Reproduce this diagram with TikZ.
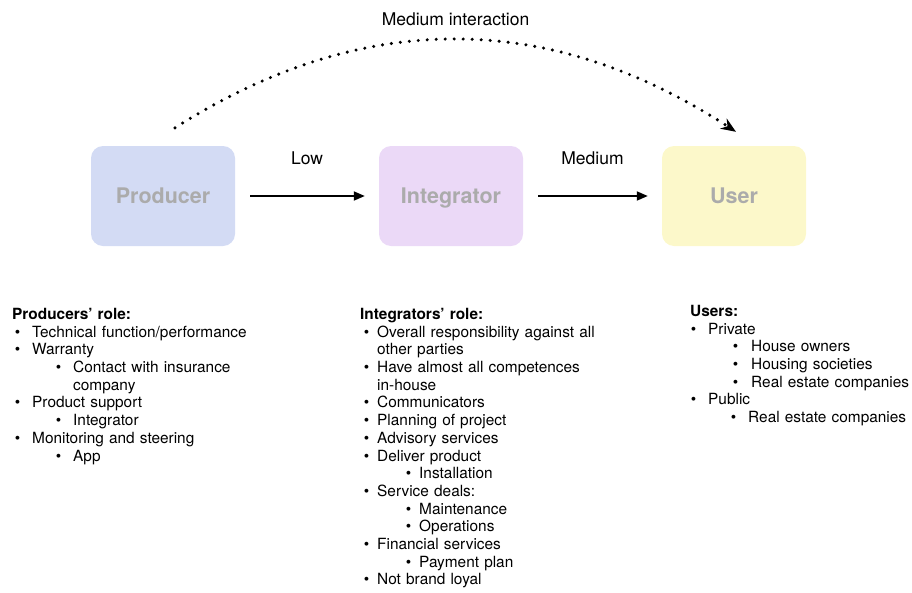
\documentclass[tikz,border=0pt]{standalone}
\usepackage{fontspec}
\setmainfont{TeX Gyre Heros}
\usepackage{enumitem}
\usetikzlibrary{arrows.meta}

\definecolor{prodblue}{HTML}{D3DBF4}
\definecolor{integpurple}{HTML}{EBD9F7}
\definecolor{useryellow}{HTML}{FCF8CA}
\definecolor{boxtext}{HTML}{ABABAB}

\setlist[itemize]{label=\textbullet, nosep}
\newcommand{\bodyfont}{\fontsize{15.4}{17.7}\selectfont}

\begin{document}
\begin{tikzpicture}[x=1pt, y=-1pt,
  box/.style = {rounded corners=12pt, minimum width=144pt, minimum height=100pt, text=boxtext, text height=19.5pt, text depth=4pt, font=\fontsize{21.5}{25}\selectfont\bfseries},
  flow/.style = {-{Triangle[length=11pt,width=9pt]}, line width=1.8pt, shorten <=15pt, shorten >=14pt},
  interact/.style = {-{Stealth[length=15pt,width=12pt]}, line width=3.4pt, line cap=round, dash pattern=on 0pt off 9pt},
  lbl/.style = {font=\fontsize{17.5}{20}\selectfont},
  role/.style = {anchor=north west, inner sep=0pt, text width=280pt, font=\bodyfont}]
\useasboundingbox (0,0) rectangle (912,592);

\node[box, fill=prodblue] (prod) at (163,196) {Producer};
\node[box, fill=integpurple] (integ) at (451,196) {Integrator};
\node[box, fill=useryellow] (user) at (734,196) {User};

\draw[flow] (prod) -- (integ) node[midway, lbl, yshift=38pt] {Low};
\draw[flow] (integ) -- (user) node[midway, lbl, yshift=38pt] {Medium};

% interaction over the top
\coordinate (ia) at ([xshift=12pt,yshift=18pt]prod.north);
\coordinate (ib) at ([xshift=2pt,yshift=14pt]user.north);
\draw[interact] (ia) .. controls (362,9) and (549,10) .. (ib)
  node[pos=0.5, lbl, yshift=20pt] {Medium interaction};

\node[role] (prodrole) at (12,308) {\textbf{Producers’ role:}
\begin{itemize}[leftmargin=20pt, labelsep=12pt]
  \item Technical function/performance
  \item Warranty
  \begin{itemize}[leftmargin=41pt, labelsep=12pt]
    \item Contact with insurance\newline company
  \end{itemize}
  \item Product support
  \begin{itemize}[leftmargin=41pt, labelsep=12pt]
    \item Integrator
  \end{itemize}
  \item Monitoring and steering
  \begin{itemize}[leftmargin=41pt, labelsep=12pt]
    \item App
  \end{itemize}
\end{itemize}};

\node[role] (integrole) at (360,308) {\textbf{Integrators’ role:}
\begin{itemize}[leftmargin=17pt, labelsep=8pt]
  \item Overall responsibility against all\newline other parties
  \item Have almost all competences\newline in-house
  \item Communicators
  \item Planning of project
  \item Advisory services
  \item Deliver product
  \begin{itemize}[leftmargin=42pt, labelsep=8pt]
    \item Installation
  \end{itemize}
  \item Service deals:
  \begin{itemize}[leftmargin=42pt, labelsep=8pt]
    \item Maintenance
    \item Operations
  \end{itemize}
  \item Financial services
  \begin{itemize}[leftmargin=42pt, labelsep=8pt]
    \item Payment plan
  \end{itemize}
  \item Not brand loyal
\end{itemize}};

\node[role, text width=240pt] (userrole) at (690,305) {\textbf{Users:}
\begin{itemize}[leftmargin=18pt, labelsep=12pt]
  \item Private
  \begin{itemize}[leftmargin=43pt, labelsep=13pt]
    \item House owners
    \item Housing societies
    \item Real estate companies
  \end{itemize}
  \item Public
  \begin{itemize}[leftmargin=40pt, labelsep=12pt]
    \item Real estate companies
  \end{itemize}
\end{itemize}};
\end{tikzpicture}
\end{document}
